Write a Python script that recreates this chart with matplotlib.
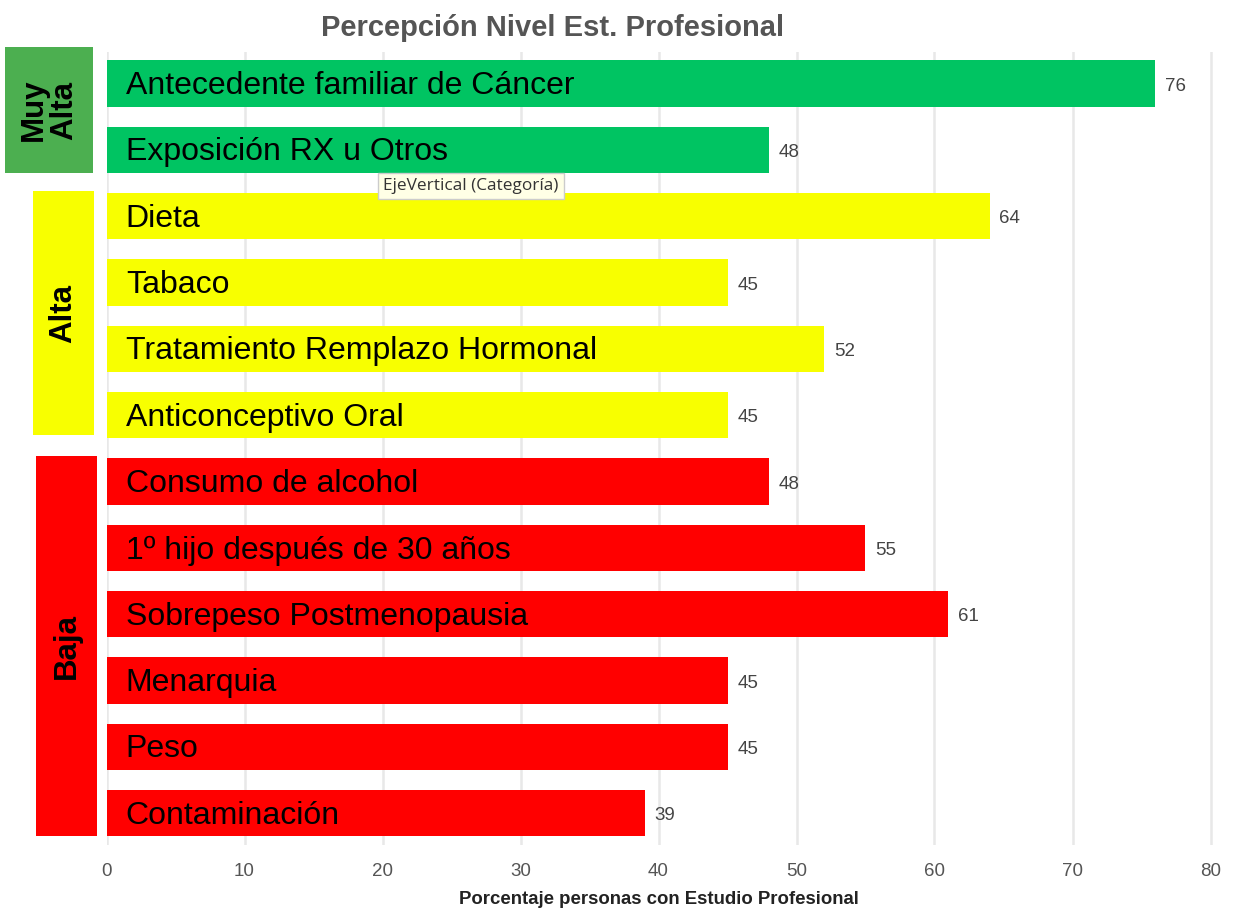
import matplotlib
matplotlib.use("Agg")
import matplotlib.pyplot as plt
from matplotlib.patches import Rectangle
from matplotlib.transforms import blended_transform_factory

# data
categories = [
    "Antecedente familiar de Cáncer",
    "Exposición RX u Otros",
    "Dieta",
    "Tabaco",
    "Tratamiento Remplazo Hormonal",
    "Anticonceptivo Oral",
    "Consumo de alcohol",
    "1º hijo después de 30 años",
    "Sobrepeso Postmenopausia",
    "Menarquia",
    "Peso",
    "Contaminación",
]
values = [76, 48, 64, 45, 52, 45, 48, 55, 61, 45, 45, 39]
groups = ["Muy\nAlta", "Alta", "Baja"]
group_sizes = [2, 4, 6]
x_ticks = [0, 10, 20, 30, 40, 50, 60, 70, 80]

TITLE = "Percepción Nivel Est. Profesional"
XLABEL = "Porcentaje personas con Estudio Profesional"
TOOLTIP = "EjeVertical (Categoría)"

bar_colors = ["#00c462", "#f8ff00", "#ff0000"]
box_colors = ["#4caf50", "#f8ff00", "#ff0000"]
# box x-extent in figure pixels, and padding in bar units (top, bottom)
box_px = [(5, 93), (33, 94), (36, 97)]
box_pad = [(0.55, 0.35), (0.38, 0.30), (0.38, 0.35)]

W, H = 1233, 910
fig = plt.figure(figsize=(W / 100, H / 100), dpi=100)
plt.rcParams["font.family"] = ["Liberation Sans", "DejaVu Sans"]

ax_left, ax_right = 106.5, 106.5 + 81 * 13.8
ax_top, ax_bot = 52, 845
ax = fig.add_axes([ax_left / W, 1 - ax_bot / H, (ax_right - ax_left) / W, (ax_bot - ax_top) / H])

colors = []
for g, n in enumerate(group_sizes):
    colors += [bar_colors[g]] * n

ypos = list(range(len(categories)))
ax.barh(ypos, values, height=0.70, color=colors, zorder=2)

for y, v, c in zip(ypos, values, categories):
    ax.text(1.4, y + 0.04, c, va="center", ha="left", fontsize=23, color="black", zorder=3)
    ax.text(v + 0.7, y + 0.04, str(v), va="center", ha="left", fontsize=13.5, color="#444444")

ax.set_xlim(0, 81)
ax.set_ylim(11.48, -0.475)
ax.set_xticks(x_ticks)
ax.set_xticklabels([str(t) for t in x_ticks], color="#555555", fontsize=13.5)
ax.tick_params(axis="x", length=0, pad=13)
ax.set_yticks([])
ax.grid(axis="x", color="#e8e8e8", linewidth=1.8, zorder=0)
for s in ax.spines.values():
    s.set_visible(False)

fig.text(659 / W, 1 - 899 / H, XLABEL, ha="center", va="center", fontsize=13.4,
         fontweight="bold", color="#222222")
fig.text(553 / W, 1 - 28 / H, TITLE, ha="center", va="center", fontsize=21,
         fontweight="bold", color="#555555")

# group boxes on the left
trans = blended_transform_factory(fig.transFigure, ax.transData)
start = 0
for g, n in enumerate(group_sizes):
    x0, x1 = box_px[g]
    top = start - box_pad[g][0]
    bot = start + n - 1 + box_pad[g][1]
    rect = Rectangle((x0 / W, top), (x1 - x0) / W, bot - top, transform=trans,
                     facecolor=box_colors[g], edgecolor="none", clip_on=False)
    fig.add_artist(rect)
    fig.text((x0 + x1) / 2 / W, (top + bot) / 2, groups[g], transform=trans, rotation=90,
             ha="center", va="center", fontsize=22.5, fontweight="bold",
             linespacing=1.0)
    start += n

# tooltip left over from the screenshot
fig.text(383 / W, 1 - 186 / H, TOOLTIP, ha="left", va="center", fontsize=12.4,
         color="#333333", family=["Open Sans", "DejaVu Sans"],
         bbox=dict(boxstyle="square,pad=0.3", facecolor="#ffffe6", edgecolor="#cccccc"))

fig.savefig("out.png", dpi=100)
